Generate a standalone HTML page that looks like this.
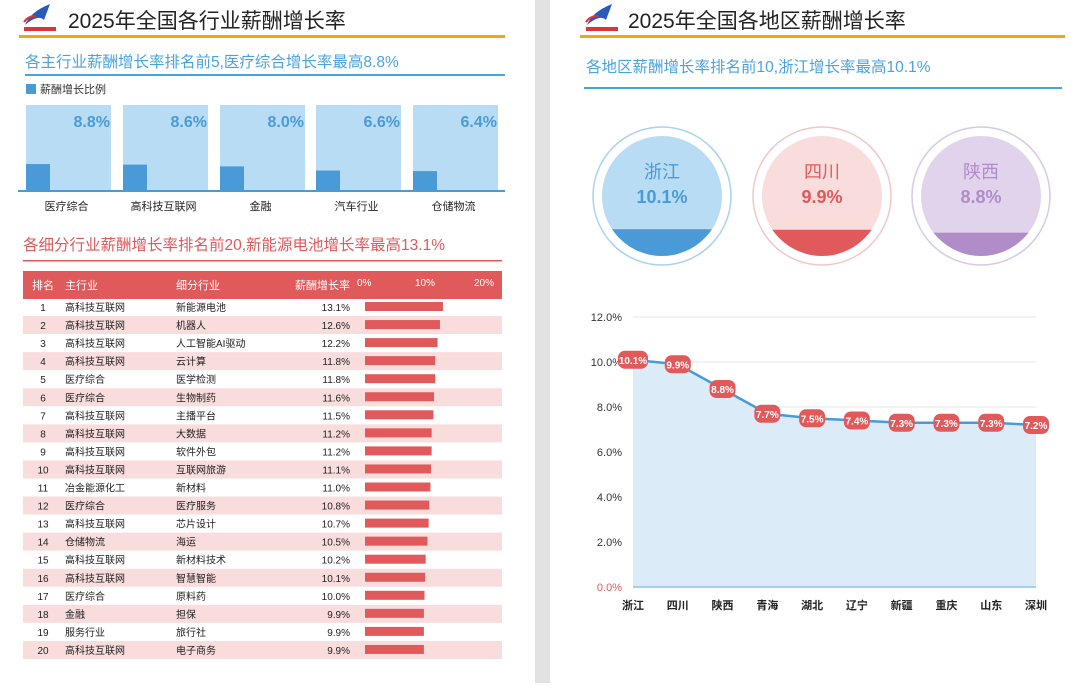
<!DOCTYPE html>
<html><head><meta charset="utf-8">
<style>
body{margin:0;width:1080px;height:683px;overflow:hidden;background:#fff;font-family:"Liberation Sans","Noto Sans CJK SC",sans-serif;}
svg text{font-family:"Liberation Sans","Noto Sans CJK SC",sans-serif;}
</style></head>
<body>
<svg id="s" width="1080" height="683" xmlns="http://www.w3.org/2000/svg">
<rect x="535" y="0" width="15" height="683" fill="#e2e2e2"/>
<!-- left header -->
<g>
<path d="M25 25 Q30 12 50 4 L44 20 Q38 14 25 25Z" fill="#2a5ab8"/><path d="M24 22 Q28 16 36 16" stroke="#d33" stroke-width="2" fill="none"/>
<rect x="24" y="27" width="32" height="4" fill="#d33"/></g>
<text x="68" y="28" font-size="21" fill="#222">2025年全国各行业薪酬增长率</text>
<rect x="19" y="35" width="486" height="3" fill="#e8a817"/>
<text x="25" y="67" font-size="15.5" fill="#4aa3df">各主行业薪酬增长率排名前5,医疗综合增长率最高8.8%</text>
<rect x="25" y="74" width="480" height="2" fill="#4aa3df"/>
<rect x="26" y="84" width="10" height="10" fill="#4a9ad8"/>
<text x="40" y="93" font-size="11" fill="#333">薪酬增长比例</text>
<g id="ind"></g>
<rect x="18" y="190" width="487" height="2" fill="#4a9ad8"/>
<text x="23" y="250" font-size="15.5" fill="#e0585a">各细分行业薪酬增长率排名前20,新能源电池增长率最高13.1%</text>
<rect x="23" y="260" width="479" height="1.5" fill="#e0585a"/>
<g>
<rect x="23" y="271" width="479" height="28" fill="#e05a5b"/>
<text x="32" y="289" font-size="11" fill="#fff">排名</text>
<text x="65" y="289" font-size="11" fill="#fff">主行业</text>
<text x="176" y="289" font-size="11" fill="#fff">细分行业</text>
<text x="350" y="289" font-size="11" fill="#fff" text-anchor="end">薪酬增长率</text>
<text x="357" y="286" font-size="10" fill="#fff">0%</text>
<text x="425" y="286" font-size="10" fill="#fff" text-anchor="middle">10%</text>
<text x="494" y="286" font-size="10" fill="#fff" text-anchor="end">20%</text>
</g>
<g id="tbl"></g>
<!-- right -->
<g>
<path d="M587 25 Q592 12 612 4 L606 20 Q600 14 587 25Z" fill="#2a5ab8"/><path d="M586 22 Q590 16 598 16" stroke="#d33" stroke-width="2" fill="none"/>
<rect x="586" y="27" width="32" height="4" fill="#d33"/></g>
<text x="628" y="28" font-size="21" fill="#222">2025年全国各地区薪酬增长率</text>
<rect x="580" y="35" width="485" height="3" fill="#e8a817"/>
<text x="586" y="72" font-size="15.5" fill="#4aa3df">各地区薪酬增长率排名前10,浙江增长率最高10.1%</text>
<rect x="584" y="87" width="478" height="2" fill="#4aa3df"/>
<g id="circ"></g>
<g id="line"></g>
</svg>
<script>
const NS="http://www.w3.org/2000/svg";
function mk(p,t,a,txt){const e=document.createElementNS(NS,t);for(const k in a)e.setAttribute(k,a[k]);if(txt!==undefined)e.textContent=txt;p.appendChild(e);return e;}
// industry chart
const indCats=["医疗综合","高科技互联网","金融","汽车行业","仓储物流"];
const indVals=[8.8,8.6,8.0,6.6,6.4];
const indX=[26,123,220,316,413], colW=85;
const ind=document.getElementById('ind');
const indY=v=>190-v*2.95;
indCats.forEach((c,i)=>{
 const g=mk(ind,'g',{});
 
 
 mk(g,'rect',{x:indX[i],y:105,width:colW,height:85,fill:'#b8dcf3'});
 const b=mk(g,'rect',{x:indX[i],y:indY(indVals[i]),width:24,height:190-indY(indVals[i]),fill:'#4a9ad8'});
 
 
 mk(g,'text',{x:indX[i]+colW-1,y:127,'font-size':16,'font-weight':'bold',fill:'#4a9ad8','text-anchor':'end'},indVals[i].toFixed(1)+'%');
 mk(g,'text',{x:indX[i]+colW/2-2,y:210,'font-size':11,fill:'#222','text-anchor':'middle'},c);
});
// table
const ranks=[1,2,3,4,5,6,7,8,9,10,11,12,13,14,15,16,17,18,19,20];
const mains=["高科技互联网","高科技互联网","高科技互联网","高科技互联网","医疗综合","医疗综合","高科技互联网","高科技互联网","高科技互联网","高科技互联网","冶金能源化工","医疗综合","高科技互联网","仓储物流","高科技互联网","高科技互联网","医疗综合","金融","服务行业","高科技互联网"];
const subs=["新能源电池","机器人","人工智能AI驱动","云计算","医学检测","生物制药","主播平台","大数据","软件外包","互联网旅游","新材料","医疗服务","芯片设计","海运","新材料技术","智慧智能","原料药","担保","旅行社","电子商务"];
const rates=[13.1,12.6,12.2,11.8,11.8,11.6,11.5,11.2,11.2,11.1,11.0,10.8,10.7,10.5,10.2,10.1,10.0,9.9,9.9,9.9];
const tbl=document.getElementById('tbl');
const bx=v=>365+v*5.95;
ranks.forEach((r,i)=>{
 const y=298+i*18.05;
 const g=mk(tbl,'g',{});
 
 
 if(i%2==1)mk(g,'rect',{x:23,y:y,width:479,height:18,fill:'#f9dcdc'});
 mk(g,'text',{x:43,y:y+13,'font-size':10,fill:'#222','text-anchor':'middle'},r);
 mk(g,'text',{x:65,y:y+13,'font-size':10,fill:'#222'},mains[i]);
 mk(g,'text',{x:176,y:y+13,'font-size':10,fill:'#222'},subs[i]);
 mk(g,'text',{x:350,y:y+13,'font-size':10,fill:'#222','text-anchor':'end'},rates[i].toFixed(1)+'%');
 const b=mk(g,'rect',{x:365,y:y+4,width:bx(rates[i])-365,height:9,fill:'#e05a5b'});
 
 
});
// circles
const cNames=["浙江","四川","陕西"];
const cVals=[10.1,9.9,8.8];
const cCx=[662,822,981], cy=196, R=60;
const cFill=["#b8dcf3","#f9dcdc","#e2d3ec"], cDark=["#4a9ad8","#e05a5b","#b08cc8"], cRing=["#a8d2f0","#f3c7c8","#d9c8e6"];
const circ=document.getElementById('circ');
const defs=mk(circ,'defs',{});
cNames.forEach((n,i)=>{
 const g=mk(circ,'g',{});
 
 
 mk(g,'circle',{cx:cCx[i],cy:cy,r:69,fill:'#fff',stroke:cRing[i],'stroke-width':1.5});
 const cp=mk(defs,'clipPath',{id:'cp'+i});mk(cp,'circle',{cx:cCx[i],cy:cy,r:R});
 mk(g,'circle',{cx:cCx[i],cy:cy,r:R,fill:cFill[i]});
 const top=cy+R-cVals[i]*2.65;
 mk(g,'rect',{x:cCx[i]-R,y:top,width:2*R,height:cy+R-top,fill:cDark[i],'clip-path':'url(#cp'+i+')'});
 mk(g,'text',{x:cCx[i],y:178,'font-size':18,fill:cDark[i],'text-anchor':'middle'},n);
 mk(g,'text',{x:cCx[i],y:203,'font-size':18,'font-weight':'bold',fill:cDark[i],'text-anchor':'middle'},cVals[i].toFixed(1)+'%');
});
// line chart
const regions=["浙江","四川","陕西","青海","湖北","辽宁","新疆","重庆","山东","深圳"];
const regVals=[10.1,9.9,8.8,7.7,7.5,7.4,7.3,7.3,7.3,7.2];
const yTicks=[0,2,4,6,8,10,12];
const L=633,Rr=1036,Y0=587,Y12=317;
const xs=i=>L+i*(Rr-L)/(regions.length-1);
const ys=v=>Y0-(v/12)*(Y0-Y12);
const lc=document.getElementById('line');
yTicks.forEach(t=>{
 const g=mk(lc,'g',{});
 
 
 mk(g,'line',{x1:L,x2:Rr,y1:ys(t),y2:ys(t),stroke:'#e6e6e6','stroke-width':1});
 mk(g,'text',{x:622,y:ys(t)+4,'font-size':11,fill:t===0?'#e05a5b':'#333','text-anchor':'end'},t.toFixed(1)+'%');
});
let d='M'+xs(0)+' '+ys(0);regVals.forEach((v,i)=>d+=' L'+xs(i)+' '+ys(v));d+=' L'+xs(regions.length-1)+' '+ys(0)+'Z';
const area=mk(lc,'path',{d:d,fill:'#dcebf8'});


mk(lc,'line',{x1:L,x2:Rr,y1:Y0,y2:Y0,stroke:'#8cc2ea','stroke-width':1.5});
const ln=mk(lc,'polyline',{points:regVals.map((v,i)=>xs(i)+','+ys(v)).join(' '),fill:'none',stroke:'#4a9ad8','stroke-width':2.5});


regVals.forEach((v,i)=>{
 const g=mk(lc,'g',{});
 
 
 const w=v>=10?30:26;
 mk(g,'rect',{x:xs(i)-w/2,y:ys(v)-9,width:w,height:18,rx:7,fill:'#e05a5b'});
 mk(g,'text',{x:xs(i),y:ys(v)+4,'font-size':10,'font-weight':'bold',fill:'#fff','text-anchor':'middle'},v.toFixed(1)+'%');
 const t=mk(lc,'text',{x:xs(i),y:609,'font-size':11,'font-weight':'bold',fill:'#222','text-anchor':'middle'},regions[i]);
 
 
});
</script>
</body></html>
